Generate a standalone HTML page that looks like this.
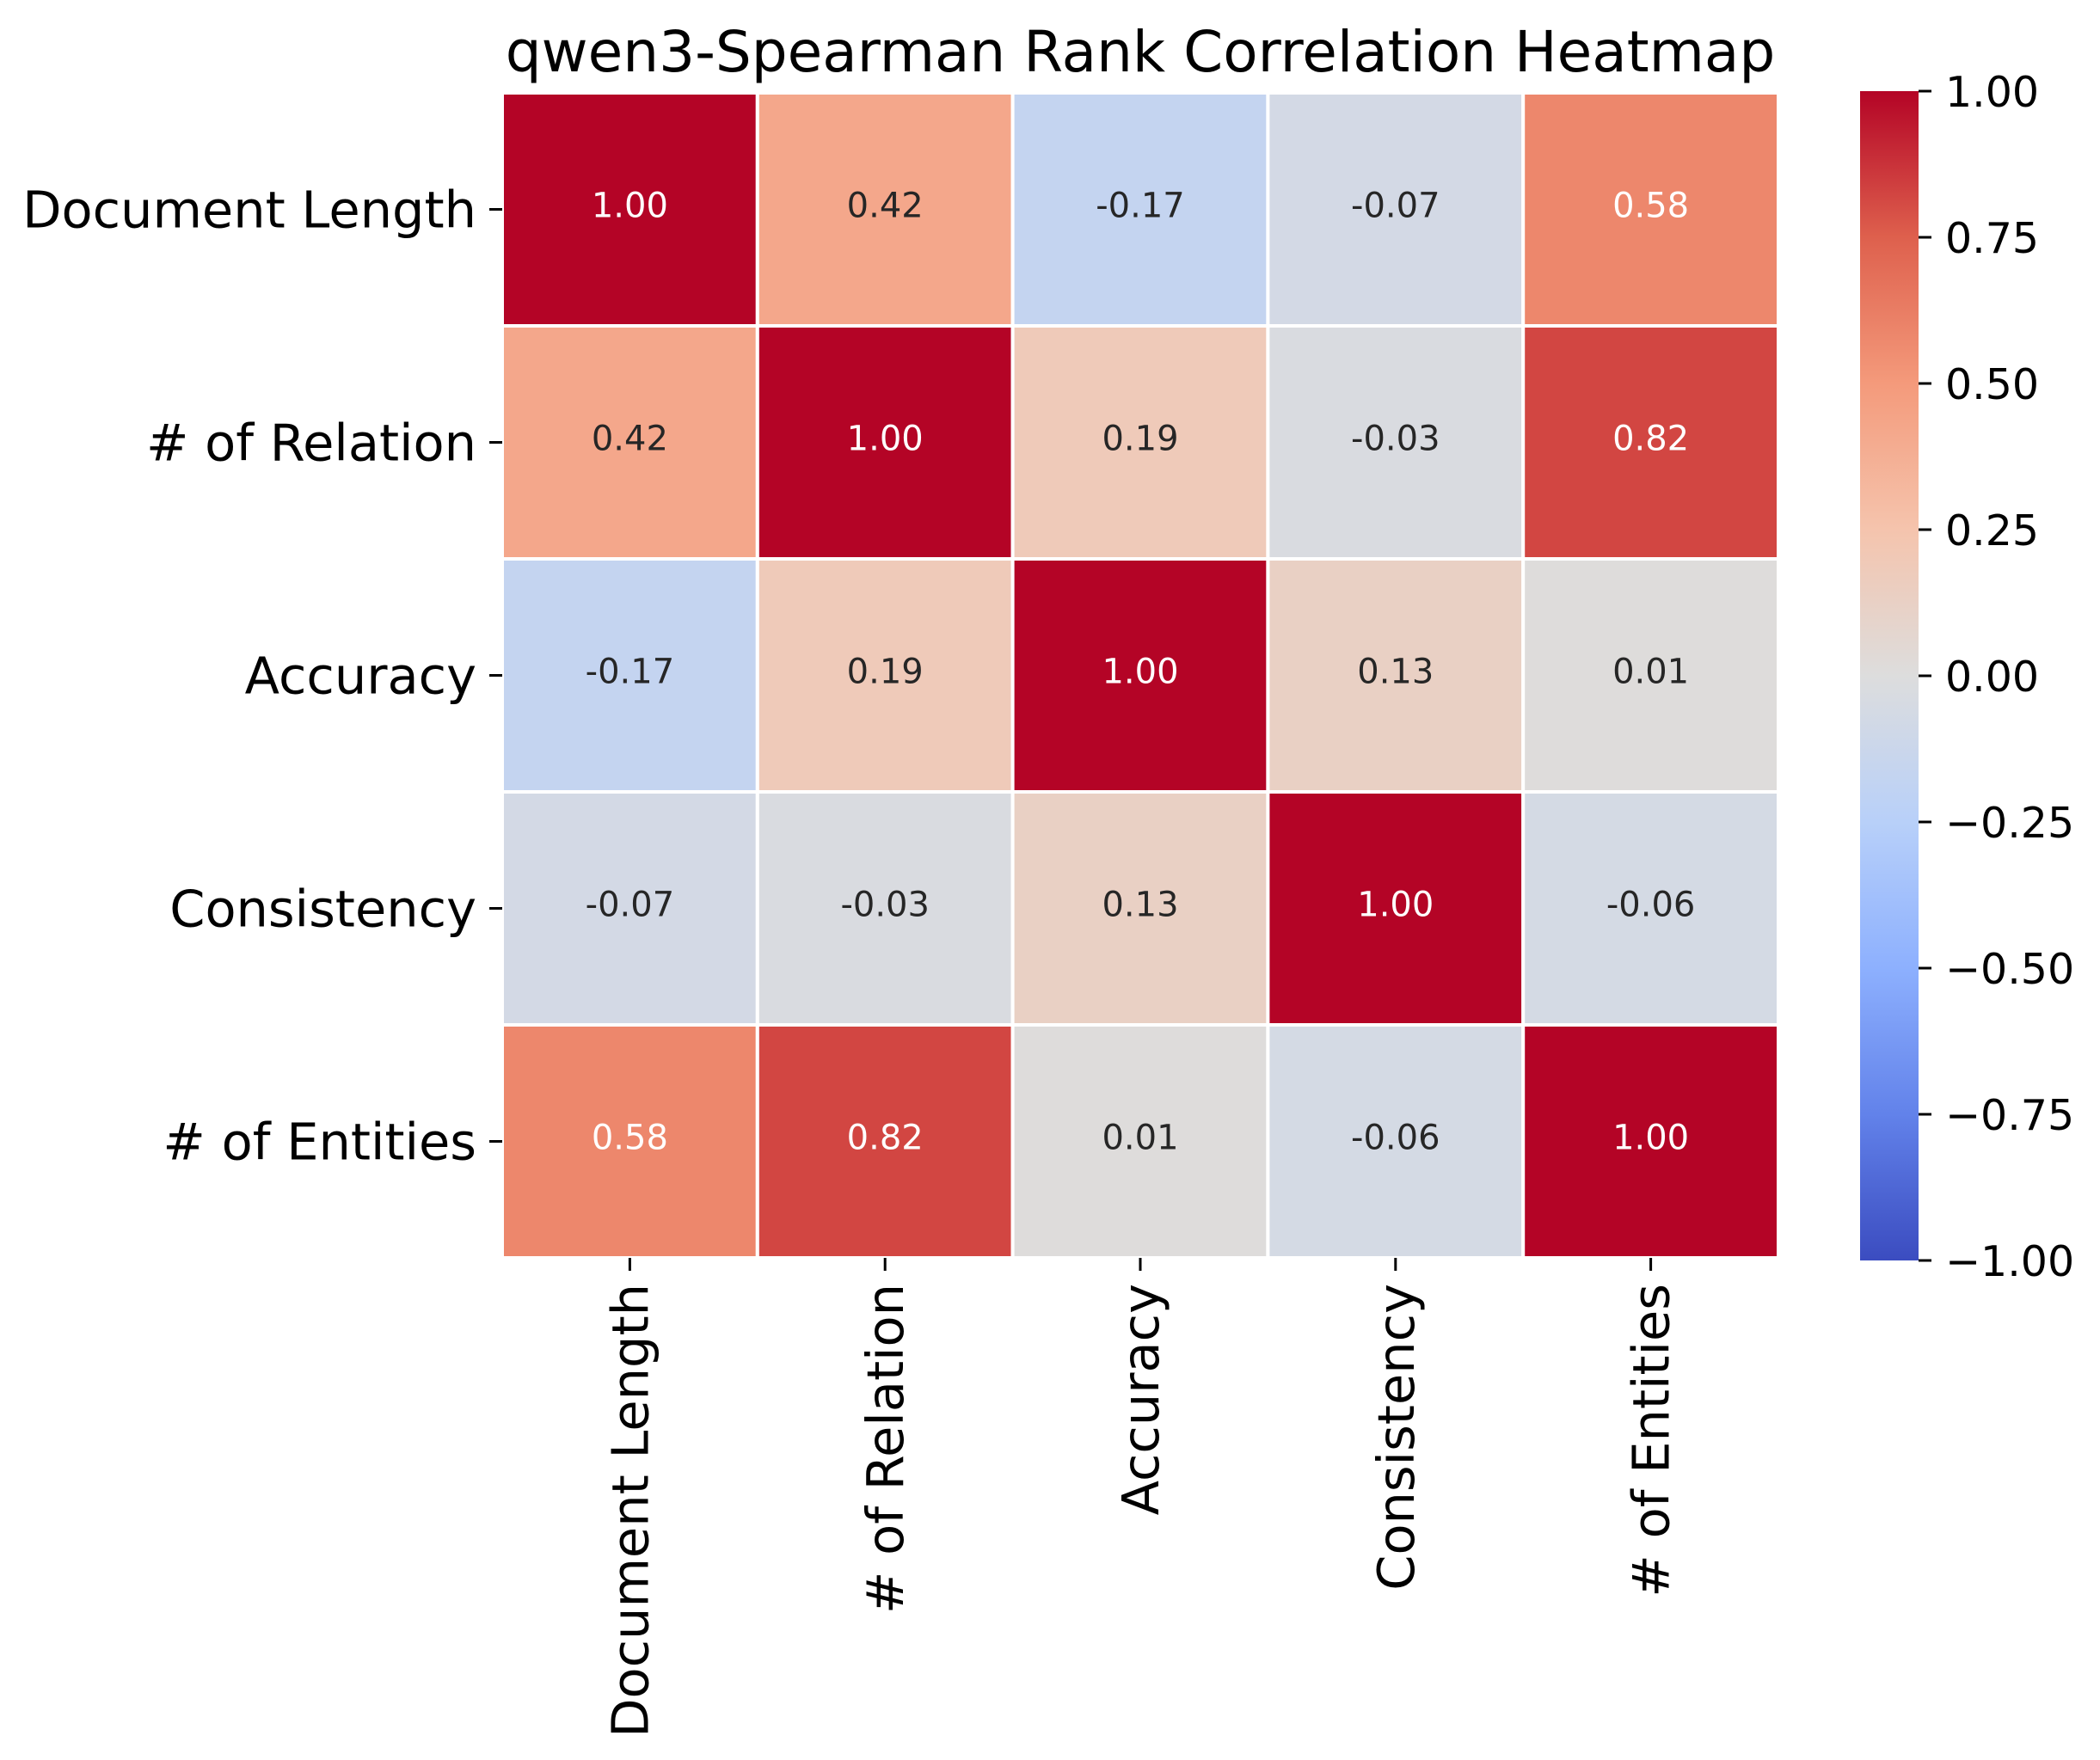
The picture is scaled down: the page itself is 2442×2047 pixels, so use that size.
<!DOCTYPE html>
<html><head><meta charset="utf-8"><style>
html,body{margin:0;padding:0;background:#fff;}
svg{display:block;font-family:"DejaVu Sans","Liberation Sans",sans-serif;}
</style></head>
<body>
<svg id="chart" width="2442" height="2047" viewBox="0 0 2442 2047" xmlns="http://www.w3.org/2000/svg">
<defs>
<linearGradient id="cbgrad" x1="0" y1="1" x2="0" y2="0">
<stop offset="0" stop-color="rgb(59,76,192)"/>
<stop offset="0.125" stop-color="rgb(98,130,234)"/>
<stop offset="0.25" stop-color="rgb(141,176,254)"/>
<stop offset="0.375" stop-color="rgb(184,208,249)"/>
<stop offset="0.5" stop-color="rgb(221,221,221)"/>
<stop offset="0.625" stop-color="rgb(245,196,173)"/>
<stop offset="0.75" stop-color="rgb(244,154,123)"/>
<stop offset="0.875" stop-color="rgb(222,96,77)"/>
<stop offset="1" stop-color="rgb(180,4,38)"/>
</linearGradient>
</defs>
<text x="1326" y="83" font-size="66" text-anchor="middle" fill="#000">qwen3-Spearman Rank Correlation Heatmap</text>
<g id="cells"></g>
<g id="ylabels"></g>
<g id="xlabels"></g>
<rect x="2163" y="106" width="68" height="1360" fill="url(#cbgrad)"/>
<g id="cbticks"></g>
</svg>
<script>
const labels = ["Document Length", "# of Relation", "Accuracy", "Consistency", "# of Entities"];
const row0 = [1.00, 0.42, -0.17, -0.07, 0.58];
const row1 = [0.42, 1.00, 0.19, -0.03, 0.82];
const row2 = [-0.17, 0.19, 1.00, 0.13, 0.01];
const row3 = [-0.07, -0.03, 0.13, 1.00, -0.06];
const row4 = [0.58, 0.82, 0.01, -0.06, 1.00];
const cbTicks = [1.00, 0.75, 0.50, 0.25, 0.00, -0.25, -0.50, -0.75, -1.00];

const matrix = [row0, row1, row2, row3, row4];
const NS = "http://www.w3.org/2000/svg";
const X0 = 584, X1 = 2068, Y0 = 108, Y1 = 1463;
const cw = (X1 - X0) / labels.length, ch = (Y1 - Y0) / labels.length;
const xPos = i => X0 + i * cw;
const yPos = i => Y0 + i * ch;
const CB_TOP = 106, CB_BOT = 1466;
const cbY = v => CB_BOT - (v + 1) / 2 * (CB_BOT - CB_TOP);

const stops = [[59,76,192],[98,130,234],[141,176,254],[184,208,249],[221,221,221],[245,196,173],[244,154,123],[222,96,77],[180,4,38]];
function cmap(v){
  let t = Math.max(0, Math.min(1, (v + 1) / 2)) * 8;
  let i = Math.min(7, Math.floor(t)), f = t - i;
  return stops[i].map((c, k) => Math.round(c + (stops[i+1][k] - c) * f));
}
function lum(c){
  const l = c.map(x => { x /= 255; return x <= 0.03928 ? x / 12.92 : Math.pow((x + 0.055) / 1.055, 2.4); });
  return 0.2126 * l[0] + 0.7152 * l[1] + 0.0722 * l[2];
}
function mk(tag, attrs, parent){
  const e = document.createElementNS(NS, tag);
  for (const k in attrs) e.setAttribute(k, attrs[k]);
  parent.appendChild(e);
  return e;
}
const cells = document.getElementById("cells");
matrix.forEach((row, r) => {
  row.forEach((v, c) => {
    const col = cmap(v);
    const rect = mk("rect", {x: xPos(c), y: yPos(r), width: cw, height: ch, fill: `rgb(${col})`, stroke: "#fff", "stroke-width": 4}, cells);
    
    
    const t = mk("text", {x: xPos(c) + cw / 2, y: yPos(r) + ch / 2 + 9, "font-size": 40, "text-anchor": "middle", fill: lum(col) > 0.408 ? "#262626" : "#ffffff"}, cells);
    
    
    t.textContent = v.toFixed(2);
  });
});
const yl = document.getElementById("ylabels");
labels.forEach((lab, i) => {
  const cy = yPos(i) + ch / 2;
  mk("line", {x1: X0 - 15, x2: X0, y1: cy, y2: cy, stroke: "#000", "stroke-width": 3}, yl);
  const t = mk("text", {x: X0 - 30, y: cy + 21, "font-size": 59, "text-anchor": "end", fill: "#000"}, yl);
  
  
  t.textContent = lab;
});
const xl = document.getElementById("xlabels");
labels.forEach((lab, i) => {
  const cx = xPos(i) + cw / 2;
  mk("line", {x1: cx, x2: cx, y1: Y1, y2: Y1 + 15, stroke: "#000", "stroke-width": 3}, xl);
  const t = mk("text", {x: 0, y: 0, "font-size": 59, "text-anchor": "end", fill: "#000", transform: `translate(${cx + 21},${Y1 + 30}) rotate(-90)`}, xl);
  
  
  t.textContent = lab;
});
const cb = document.getElementById("cbticks");
cbTicks.forEach(v => {
  const y = cbY(v);
  mk("line", {x1: 2231, x2: 2246, y1: y, y2: y, stroke: "#000", "stroke-width": 3}, cb);
  const t = mk("text", {x: 2262, y: y + 18, "font-size": 49, fill: "#000"}, cb);
  
  
  t.textContent = (v < 0 ? "\u2212" : "") + Math.abs(v).toFixed(2);
});
</script>
</body></html>
